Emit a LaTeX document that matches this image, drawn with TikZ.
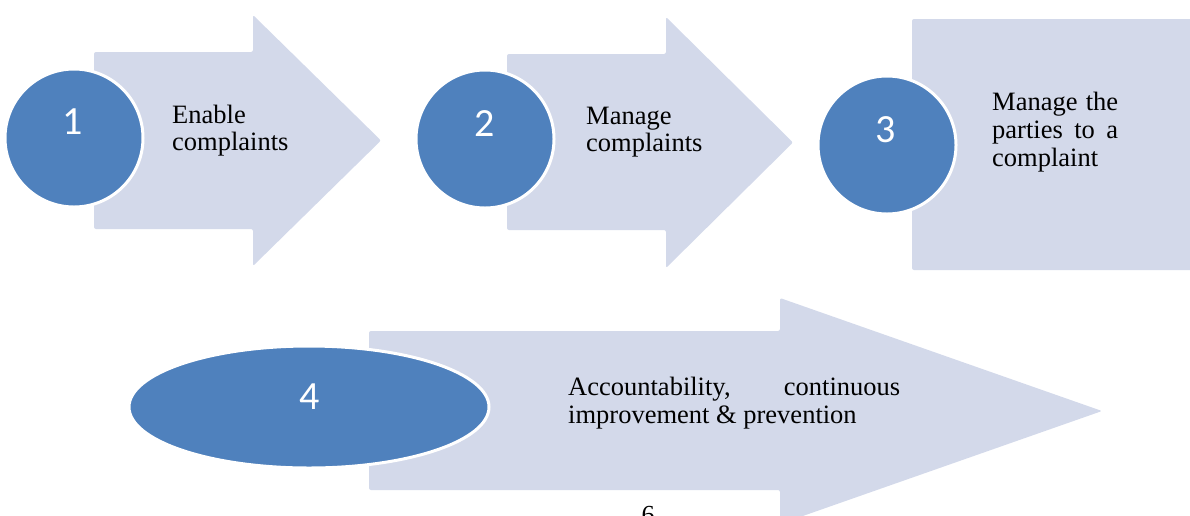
\documentclass[tikz,border=0pt]{standalone}
\usepackage{fontspec}
\setmainfont{Liberation Serif}
\newfontfamily\digitfont{Carlito}
\usetikzlibrary{shapes.geometric}
\definecolor{dotblue}{HTML}{4F81BD}
\definecolor{palefill}{HTML}{D3D9EA}
\tikzset{
  paleshape/.style={fill=palefill, draw=none, rounded corners=2pt},
  dotshape/.style={fill=dotblue, draw=white, line width=3pt, inner sep=0pt},
  digit/.style={anchor=base, text=white, font=\digitfont\fontsize{40}{44}\selectfont, inner sep=0pt},
  bodytext/.style={anchor=base west, inner sep=0pt, font=\fontsize{26.5}{28}\selectfont},
}
\begin{document}
\begin{tikzpicture}[x=1pt,y=-1pt]
\useasboundingbox (0,0) rectangle (1190,515);
\clip (0,0) rectangle (1190,515);
% arrows and box
\fill[paleshape] (94,52) -- (253,52) -- (253,15) -- (381,140.5) -- (253,266) -- (253,229) -- (94,229) -- cycle;
\fill[paleshape] (507,54) -- (666,54) -- (666,17) -- (793,142.5) -- (666,268) -- (666,230) -- (507,230) -- cycle;
\fill[paleshape] (912,19) rectangle (1194,270);
\fill[paleshape] (369,331) -- (780,331) -- (780,298) -- (1102,411) -- (780,524) -- (780,490) -- (369,490) -- cycle;
% circles
\node[dotshape, circle, minimum size=138pt] (c1) at (74,138) {};
\node[dotshape, circle, minimum size=138pt] (c2) at (485,139) {};
\node[dotshape, circle, minimum size=138pt] (c3) at (887,145) {};
\node[dotshape, ellipse, minimum width=360pt, minimum height=122pt] (c4) at (309,407) {};
% digits
\node[digit] (d1) at (73,134) {1};
\node[digit] (d2) at (485,136) {2};
\node[digit] (d3) at (886,142) {3};
\node[digit] (d4) at (310,409) {4};
% texts
\node[bodytext] (t1a) at (172,123) {Enable};
\node[bodytext] (t1b) at (172,150) {complaints};
\node[bodytext] (t2a) at (586,124) {Manage};
\node[bodytext] (t2b) at (586,151) {complaints};
\node[bodytext] (t3a) at (992,110) {\hbox to 126pt{Manage\hfill the}};
\node[bodytext] (t3b) at (992,138) {\hbox to 126pt{parties\hfill to\hfill a}};
\node[bodytext] (t3c) at (992,166) {complaint};
\node[bodytext] (t4a) at (568,395) {\hbox to 332pt{Accountability,\hfill continuous}};
\node[bodytext] (t4b) at (568,423) {improvement \& prevention};
\node[anchor=base, inner sep=0pt, font=\fontsize{26}{28}\selectfont] (pg) at (648,523) {6};
\end{tikzpicture}
\end{document}
